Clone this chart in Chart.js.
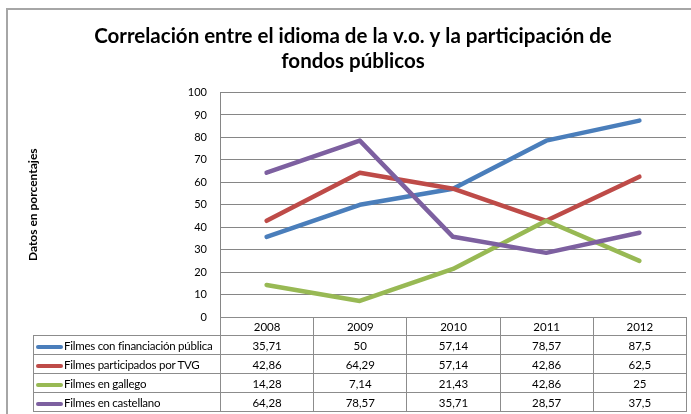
<!DOCTYPE html>
<html>
<head>
<meta charset="utf-8">
<script src="https://cdn.jsdelivr.net/npm/chart.js@4.4.0/dist/chart.umd.min.js"></script>
<style>
  body { margin: 0; background: #fff; }
  #wrap { position: relative; width: 691px; height: 414px; overflow: hidden; }
  #frame { position: absolute; left: 6px; top: 8px; width: 700px; height: 420px;
           border-left: 2px solid #a6a6a6; border-top: 2px solid #a6a6a6; }
  canvas { position: absolute; left: 0; top: 0; }
  #dataTable { position: absolute; border-collapse: collapse; table-layout: fixed;
               font-family: Lato, sans-serif; font-size: 11.5px; color: #000; }
  #dataTable td { border: 1px solid #8c8c8c; padding: 0; text-align: center; white-space: nowrap; overflow: hidden; }
  #dataTable td.name { text-align: left; padding-left: 2px; letter-spacing: -0.25px; }
  #dataTable td.blank { border-left: none; border-top: none; }
  .key { display: inline-block; width: 27px; height: 4px; border-radius: 2px; vertical-align: middle; margin-right: 1px; }
</style>
</head>
<body>
<div id="wrap">
  <div id="frame"></div>
  <canvas id="chart" width="691" height="414"></canvas>
  <table id="dataTable"></table>
</div>
<script>
// Data
const years = ["2008", "2009", "2010", "2011", "2012"];
const seriesNames = [
  "Filmes con financiación pública",
  "Filmes participados por TVG",
  "Filmes en gallego",
  "Filmes en castellano"
];
const publica = [35.71, 50, 57.14, 78.57, 87.5];
const tvg = [42.86, 64.29, 57.14, 42.86, 62.5];
const gallego = [14.28, 7.14, 21.43, 42.86, 25];
const castellano = [64.28, 78.57, 35.71, 28.57, 37.5];
const colors = ["#4a7ebb", "#be4b48", "#98b954", "#7d60a0"];

const allSeries = [publica, tvg, gallego, castellano];
const gridColor = "#868686";

// Table drawn as HTML under the plot, columns taken from the chart area
const tablePlugin = {
  id: "dataTable",
  afterRender(chart) {
    if (chart._tableDone) return;
    chart._tableDone = true;
    const area = chart.chartArea;
    const colW = area.width / years.length;
    const nameLeft = 33;
    const table = document.getElementById("dataTable");
    table.style.left = nameLeft + "px";
    table.style.top = Math.round(area.bottom) + "px";
    table.style.width = Math.round(area.right - nameLeft) + "px";

    let html = "<colgroup><col style='width:" + (area.left - nameLeft) + "px'>";
    years.forEach(() => html += "<col style='width:" + colW + "px'>");
    html += "</colgroup>";
    html += "<tr style='height:18px'><td class='blank'></td>";
    years.forEach(y => html += "<td>" + y + "</td>");
    html += "</tr>";
    allSeries.forEach((s, i) => {
      html += "<tr style='height:19px'><td class='name'><span class='key' style='background:" + colors[i] + "'></span>" + seriesNames[i] + "</td>";
      s.forEach(v => html += "<td>" + String(v).replace(".", ",") + "</td>");
      html += "</tr>";
    });
    table.innerHTML = html;
  }
};

new Chart(document.getElementById("chart"), {
  type: "line",
  data: {
    labels: years,
    datasets: allSeries.map((s, i) => ({
      label: seriesNames[i],
      data: s,
      borderColor: colors[i],
      backgroundColor: colors[i],
      borderWidth: 4.5,
      borderCapStyle: "round",
      borderJoinStyle: "round",
      pointRadius: 0,
      tension: 0,
      order: 3 - i
    }))
  },
  options: {
    responsive: false,
    animation: false,
    layout: { padding: { left: 20, right: 5, top: 24, bottom: 97 } },
    plugins: {
      legend: { display: false },
      tooltip: { enabled: false },
      title: {
        display: true,
        text: ["Correlación entre el idioma de la v.o. y la participación de", "fondos públicos"],
        color: "#000",
        font: { family: "Lato", size: 20.5, weight: "bold", lineHeight: 1.22 },
        padding: { top: 0, bottom: 18.5 }
      }
    },
    scales: {
      x: {
        offset: true,
        afterFit: s => { s.height = 0; },
        ticks: { display: false },
        grid: { display: false },
        border: { display: false }
      },
      y: {
        min: 0,
        max: 100,
        afterFit: s => { s.width = 200; },
        ticks: { stepSize: 10, color: "#000", padding: 13, font: { family: "Lato", size: 11 } },
        grid: { color: gridColor, drawTicks: false },
        border: { color: gridColor },
        title: {
          display: true,
          text: "Datos en porcentajes",
          color: "#000",
          padding: { top: 6, bottom: 0 },
          font: { family: "Lato", size: 12, weight: "bold" }
        }
      }
    }
  },
  plugins: [tablePlugin]
});
</script>
</body>
</html>
